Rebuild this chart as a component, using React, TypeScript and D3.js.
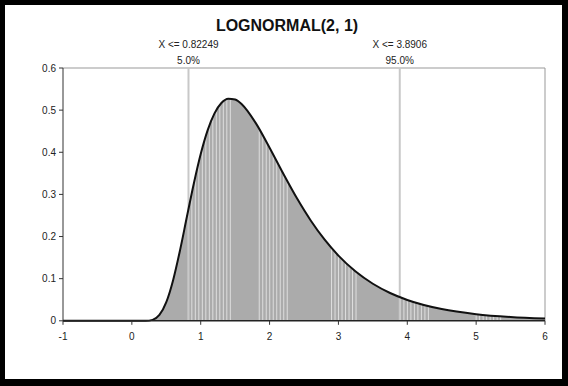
import React from "react";
import * as d3 from "d3";

const title = "LOGNORMAL(2, 1)";
const xValues = [-1, 0, 0.2, 0.3, 0.4, 0.5, 0.6, 0.7, 0.8, 0.9, 1.0, 1.1, 1.2, 1.3, 1.4, 1.5, 1.6, 1.8, 2.0, 2.2, 2.4, 2.6, 2.8, 3.0, 3.25, 3.5, 3.75, 4.0, 4.5, 5.0, 5.5, 6.0];
const densityValues = [0, 0, 0.0001, 0.0022, 0.0138, 0.0443, 0.0971, 0.1678, 0.2474, 0.3259, 0.3958, 0.452, 0.4924, 0.517, 0.5273, 0.5252, 0.5133, 0.4691, 0.4107, 0.3488, 0.29, 0.2375, 0.1924, 0.1547, 0.1169, 0.0879, 0.066, 0.0495, 0.0279, 0.0158, 0.0091, 0.0053];
const xTicks = [-1, 0, 1, 2, 3, 4, 5, 6];
const yTicks = [0, 0.1, 0.2, 0.3, 0.4, 0.5, 0.6];
const markerX = [0.82249, 3.8906];
const markerLabel = ["X <= 0.82249", "X <= 3.8906"];
const markerPct = ["5.0%", "95.0%"];
const stripeStarts = [0.82, 1.85, 2.9, 3.9, 5.0];
const stripeEnds = [1.45, 2.3, 3.3, 4.35, 5.4];

const W = 568;
const H = 386;
const font = "'Liberation Sans', Arial, sans-serif";

export default function App() {
  const x = d3.scaleLinear().domain([-1, 6]).range([63, 545]);
  const y = d3.scaleLinear().domain([0, 0.6]).range([320.8, 68]);
  const pts = xValues.map((v, i) => [v, densityValues[i]] as [number, number]);
  const line = d3.line<[number, number]>().x(d => x(d[0])).y(d => y(d[1])).curve(d3.curveMonotoneX);
  const area = d3.area<[number, number]>().x(d => x(d[0])).y0(y(0)).y1(d => y(d[1])).curve(d3.curveMonotoneX);
  const areaPath = area(pts) || "";

  const stripes: number[] = [];
  stripeStarts.forEach((s, i) => {
    const px0 = x(s);
    const px1 = x(stripeEnds[i]);
    for (let p = px0; p <= px1; p += 3.5) stripes.push(p);
  });

  return (
    <svg width={W} height={H} style={{ position: "absolute", left: 0, top: 0 }}>
      <defs>
        <clipPath id="areaClip">
          <path d={areaPath} />
        </clipPath>
      </defs>
      <rect x={0} y={0} width={W} height={H} fill="#000" />
      <rect x={5} y={5} width={557} height={374} fill="#fff" />
      <text x={287} y={31} textAnchor="middle" fontFamily={font} fontWeight="bold" fontSize={16} fill="#111">{title}</text>
      {markerX.map((m, i) => (
        <g key={i}>
          <text x={x(m)} y={48} textAnchor="middle" fontFamily={font} fontSize={10} fill="#222">{markerLabel[i]}</text>
          <text x={x(m)} y={64} textAnchor="middle" fontFamily={font} fontSize={10} fill="#222">{markerPct[i]}</text>
        </g>
      ))}
      {/* plot border */}
      <line x1={x(-1)} x2={x(6)} y1={y(0.6)} y2={y(0.6)} stroke="#999" strokeWidth={1} />
      <line x1={x(6)} x2={x(6)} y1={y(0.6)} y2={y(0)} stroke="#999" strokeWidth={1} />
      {/* area */}
      <path d={areaPath} fill="#ababab" />
      <g clipPath="url(#areaClip)">
        {stripes.map((p, i) => (
          <line key={i} x1={p} x2={p} y1={y(0.6)} y2={y(0)} stroke="#dedede" strokeWidth={1} />
        ))}
      </g>
      {markerX.map((m, i) => (
        <line key={i} x1={x(m)} x2={x(m)} y1={y(0.6)} y2={y(0)} stroke="#c8c8c8" strokeWidth={2} />
      ))}
      <path d={line(pts) || ""} fill="none" stroke="#111" strokeWidth={2} />
      {/* axes */}
      <line x1={x(-1)} x2={x(-1)} y1={y(0.6)} y2={y(0)} stroke="#333" strokeWidth={1} />
      <line x1={x(-1)} x2={x(6)} y1={y(0)} y2={y(0)} stroke="#222" strokeWidth={1.5} />
      {yTicks.map((t, i) => (
        <g key={i}>
          <line x1={x(-1) - 4} x2={x(-1)} y1={y(t)} y2={y(t)} stroke="#333" />
          <text x={x(-1) - 7} y={y(t) + 3.5} textAnchor="end" fontFamily={font} fontSize={10} fill="#222">{t === 0 ? "0" : t.toFixed(1)}</text>
        </g>
      ))}
      {xTicks.map((t, i) => (
        <g key={i}>
          <line x1={x(t)} x2={x(t)} y1={y(0)} y2={y(0) + 4} stroke="#333" />
          <text x={x(t)} y={y(0) + 19} textAnchor="middle" fontFamily={font} fontSize={10} fill="#222">{String(t)}</text>
        </g>
      ))}
    </svg>
  );
}
